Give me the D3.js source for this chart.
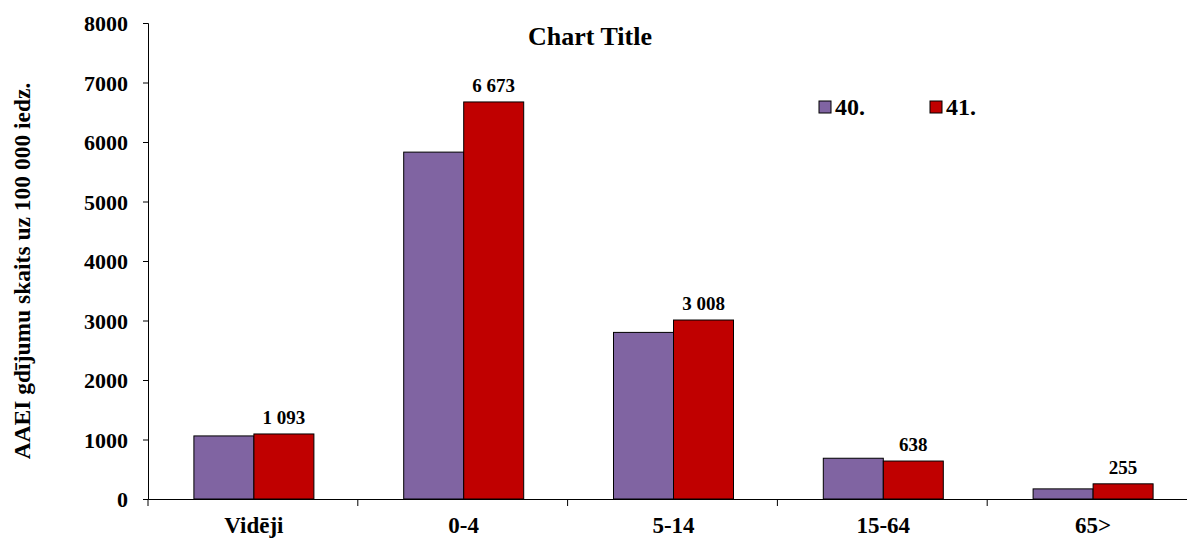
<!DOCTYPE html>
<html><head><meta charset="utf-8">
<script src="https://cdn.jsdelivr.net/npm/d3@7"></script>
<style>
body{margin:0;background:#fff;}
svg{display:block;font-family:"Liberation Serif","Times New Roman",serif;font-weight:bold;}
svg text{font-family:"Liberation Serif","Times New Roman",serif;font-weight:bold;}
</style></head><body>
<svg id="c" width="1187" height="539"></svg>
<script>
const categories = ["Vidēji","0-4","5-14","15-64","65>"];
const seriesNames = ["40.","41."];
const values40 = [1060, 5830, 2800, 685, 170];
const values41 = [1093, 6673, 3008, 638, 255];
const labels41 = ["1 093","6 673","3 008","638","255"];
const yTicks = [0,1000,2000,3000,4000,5000,6000,7000,8000];
const colors = ["#8064A2","#C00000"];

(function(){
const FF = "Liberation Serif, Times New Roman, serif";
const svg = d3.select("#c");
const mLeft = 148, mRight = 1197, mTop = 23, mBottom = 499;
const x = d3.scaleBand().domain(categories).range([mLeft,mRight]).paddingInner(0).paddingOuter(0);
const y = d3.scaleLinear().domain([0,8000]).range([mBottom,mTop]);

// y axis
const yAxis = d3.axisLeft(y).tickValues(yTicks).tickSize(5).tickFormat(d3.format("d"));
const gy = svg.append("g").attr("transform",`translate(${mLeft},0)`).call(yAxis)
  .attr("font-family",FF).attr("font-size",22).attr("font-weight","bold");
gy.select(".domain").attr("stroke","#000");
gy.selectAll(".tick line").attr("stroke","#000");
gy.selectAll(".tick text").attr("fill","#000").attr("x",-20).attr("dy","0.35em");

const data = categories.map((c,i)=>({c, v:[values40[i],values41[i]], l:labels41[i]}));
const bw = 60;
const g = svg.append("g");
data.forEach(d=>{
  const cx = x(d.c)+x.bandwidth()/2 + 1;
  d.v.forEach((v,j)=>{
    g.append("rect").attr("x", cx - bw + j*bw).attr("y", y(v)).attr("width", bw).attr("height", y(0)-y(v))
      .attr("fill", colors[j]).attr("stroke","#000").attr("stroke-width",1);
  });
  g.append("text").attr("x", cx + bw/2).attr("y", y(d.v[1]) - 10).attr("text-anchor","middle")
    .attr("font-size",19).attr("fill","#000").text(d.l);
});

// x axis
const xAxis = d3.axisBottom(x).tickSize(0).tickFormat("");
const gx = svg.append("g").attr("transform",`translate(0,${mBottom})`).call(xAxis)
  .attr("font-family",FF).attr("font-size",23).attr("font-weight","bold");
gx.select(".domain").attr("stroke","#000");
gx.selectAll(".tick").remove();
const bounds = categories.map(c=>x(c)).concat([mRight]);
gx.selectAll("line.b").data(bounds).enter().append("line").attr("class","b")
  .attr("x1",d=>d).attr("x2",d=>d).attr("y1",0).attr("y2",7).attr("stroke","#000");
gx.selectAll("text.cl").data(categories).enter().append("text").attr("class","cl")
  .attr("x",d=>x(d)+x.bandwidth()/2+1).attr("y",34).attr("text-anchor","middle")
  .attr("fill","#000").text(d=>d);

// title
svg.append("text").attr("x",590).attr("y",45).attr("text-anchor","middle").attr("font-size",26).text("Chart Title");

// y-axis title
svg.append("text").attr("transform","translate(30,271) rotate(-90)").attr("text-anchor","middle")
  .attr("font-size",23.5).text("AAEI gdījumu skaits uz 100 000 iedz.");

// legend
const legX = [819, 930];
seriesNames.forEach((s,i)=>{
  svg.append("rect").attr("x",legX[i]).attr("y",101).attr("width",12).attr("height",12)
    .attr("fill",colors[i]).attr("stroke","#000").attr("stroke-width",1);
  svg.append("text").attr("x",legX[i]+16).attr("y",115).attr("font-size",24).text(s);
});
})();
</script>
</body></html>
